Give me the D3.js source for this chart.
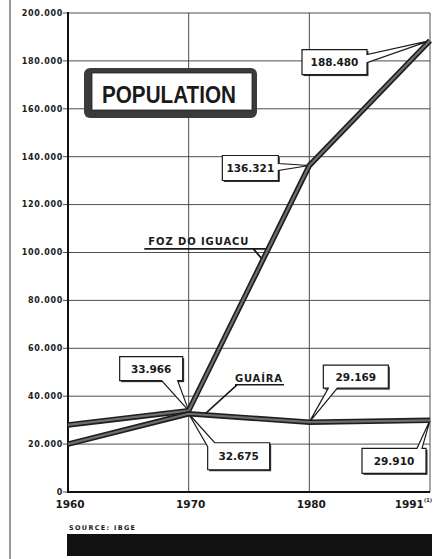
<!DOCTYPE html>
<html>
<head>
<meta charset="utf-8">
<script src="https://cdn.jsdelivr.net/npm/d3@7"></script>
<style>
  body { margin: 0; background: #fff; }
  svg text { font-family: "DejaVu Sans", sans-serif; font-weight: bold; fill: #1a1a1a; }
</style>
</head>
<body>
<div id="chart"></div>
<script>
var width = 447;
var height = 559;

// data (IBGE census)
var years = ["1960", "1970", "1980", "1991"];
var fozValues = [28000, 33966, 136321, 188480];
var guairaValues = [20000, 32675, 29169, 29910];
var yTicks = [0, 20000, 40000, 60000, 80000, 100000, 120000, 140000, 160000, 180000, 200000];

// plot frame (window.top is reserved, so no "top" var)
var plotLeft = 68, plotRight = 430, plotTop = 13, plotBottom = 492;

var x = d3.scalePoint().domain(years).range([plotLeft, plotRight]);
var y = d3.scaleLinear().domain([0, 200000]).range([plotBottom, plotTop]);

var fmt = d3.formatLocale({ decimal: ",", thousands: ".", grouping: [3], currency: ["", ""] }).format(",d");

var svg = d3.select("#chart")
  .append("svg")
  .attr("width", width)
  .attr("height", height);

// margin rule on the far left
svg.append("line")
  .attr("x1", 10).attr("x2", 10)
  .attr("y1", 0).attr("y2", height)
  .attr("stroke", "#333").attr("stroke-width", 1);

// horizontal grid + tick dashes
svg.selectAll(".hgrid")
  .data(yTicks)
  .enter()
  .append("line")
    .attr("x1", plotLeft - 5)
    .attr("x2", plotRight)
    .attr("y1", d => y(d))
    .attr("y2", d => y(d))
    .attr("stroke", "#3a3a3a")
    .attr("stroke-width", 0.9);

// vertical grid
svg.selectAll(".vgrid")
  .data(years.slice(1))
  .enter()
  .append("line")
    .attr("x1", d => x(d))
    .attr("x2", d => x(d))
    .attr("y1", plotTop)
    .attr("y2", plotBottom)
    .attr("stroke", "#3a3a3a")
    .attr("stroke-width", 0.9);

// axes
svg.append("line")
  .attr("x1", plotLeft).attr("x2", plotLeft)
  .attr("y1", plotTop - 1).attr("y2", plotBottom + 1)
  .attr("stroke", "#111").attr("stroke-width", 2);
svg.append("line")
  .attr("x1", plotLeft).attr("x2", plotRight)
  .attr("y1", plotBottom).attr("y2", plotBottom)
  .attr("stroke", "#111").attr("stroke-width", 2);

// y tick labels
svg.selectAll(".ylab")
  .data(yTicks)
  .enter()
  .append("text")
    .attr("x", plotLeft - 5)
    .attr("y", d => y(d))
    .attr("dy", "0.35em")
    .attr("text-anchor", "end")
    .attr("font-size", 8)
    .attr("letter-spacing", 0.7)
    .text(d => fmt(d));

// x tick labels
svg.selectAll(".xlab")
  .data(years)
  .enter()
  .append("text")
    .attr("x", (d, i) => i < years.length - 1 ? x(d) + 2 : x(d) + 2)
    .attr("y", 508)
    .attr("text-anchor", (d, i) => i < years.length - 1 ? "middle" : "end")
    .attr("font-size", 10.5)
    .text(d => d)
    .filter((d, i) => i == years.length - 1)
    .append("tspan")
      .attr("dy", -6)
      .attr("font-size", 5)
      .text("(1)");

// title box
svg.append("rect")
  .attr("x", 84).attr("y", 68)
  .attr("width", 173).attr("height", 50)
  .attr("rx", 6)
  .attr("fill", "#3b3b3b");
svg.append("rect")
  .attr("x", 92).attr("y", 73)
  .attr("width", 160).attr("height", 37)
  .attr("fill", "#fff")
  .attr("stroke", "#222").attr("stroke-width", 0.8);
svg.append("text")
  .attr("x", 102).attr("y", 103)
  .attr("font-size", 23)
  .attr("textLength", 134)
  .attr("lengthAdjust", "spacingAndGlyphs")
  .style("font-family", "'Liberation Sans', Arial, sans-serif")
  .style("font-weight", "bold")
  .text("POPULATION");

// value callouts (speech boxes pointing at a data point)
var series = { foz: fozValues, guaira: guairaValues };
var callouts = [
  { s: "foz", i: 3, dx: -128, dy: 9, w: 65, h: 25, gap: [["right", 5], ["right", 13]] },
  { s: "foz", i: 2, dx: -87, dy: -10, w: 56, h: 25, gap: [["right", 8], ["right", 15]] },
  { s: "foz", i: 1, dx: -69, dy: -54, w: 63, h: 24, gap: [["bottom", 58], ["bottom", 42]] },
  { s: "guaira", i: 1, dx: 19, dy: 29, w: 62, h: 27, gap: [["left", 4], ["top", 7]] },
  { s: "guaira", i: 2, dx: 14, dy: -57, w: 65, h: 23, gap: [["bottom", 14], ["bottom", 5]] },
  { s: "guaira", i: 3, dx: -68, dy: 28, w: 64, h: 25, gap: [["top", 55], ["top", 60]] }
];

function edgeT(e, w, h) {
  if (e[0] == "top") return e[1];
  if (e[0] == "right") return w + e[1];
  if (e[0] == "bottom") return w + h + (w - e[1]);
  return 2 * w + h + (h - e[1]);
}
function perimPt(t, w, h) {
  var P = 2 * w + 2 * h;
  t = ((t % P) + P) % P;
  if (t <= w) return [t, 0];
  if (t <= w + h) return [w, t - w];
  if (t <= 2 * w + h) return [w - (t - w - h), h];
  return [0, h - (t - 2 * w - h)];
}
function bubblePath(c, px, py, bx, by) {
  var w = c.w, h = c.h, P = 2 * w + 2 * h;
  var ta = edgeT(c.gap[0], w, h), tb = edgeT(c.gap[1], w, h);
  if (tb < ta) tb += P;
  var end = ta + P;
  var pts = [perimPt(tb, w, h)];
  [0, w, w + h, 2 * w + h, P, P + w, P + w + h, P + 2 * w + h, 2 * P].forEach(function(cn) {
    if (cn > tb && cn < end) pts.push(perimPt(cn, w, h));
  });
  pts.push(perimPt(end, w, h));
  var d = pts.map((p, k) => (k ? "L" : "M") + (bx + p[0]) + "," + (by + p[1])).join("");
  return d + "L" + px + "," + py + "Z";
}

var co = svg.append("g").attr("class", "callouts");
callouts.forEach(function(c) {
  var v = series[c.s][c.i];
  var px = x(years[c.i]), py = y(v);
  var bx = px + c.dx, by = py + c.dy;
  co.append("rect")
    .attr("x", bx + 1.5).attr("y", by + 1.5)
    .attr("width", c.w).attr("height", c.h)
    .attr("fill", "#333");
  co.append("path")
    .attr("d", bubblePath(c, px, py, bx, by))
    .attr("fill", "#fff")
    .attr("stroke", "#1a1a1a")
    .attr("stroke-width", 1.2)
    .attr("stroke-linejoin", "miter");
  co.append("text")
    .attr("x", bx + c.w / 2)
    .attr("y", by + c.h / 2 + 4)
    .attr("text-anchor", "middle")
    .attr("font-size", 10.5)
    .text(fmt(v));
});

// series name labels
function along(vals, i, f) {
  return [x(years[i]) + f * (x(years[i + 1]) - x(years[i])),
          y(vals[i]) + f * (y(vals[i + 1]) - y(vals[i]))];
}
var fa = along(fozValues, 1, 0.615), fb = along(fozValues, 1, 0.66);
svg.append("path")
  .attr("d", "M" + (fb[0] - 124) + "," + fb[1] + "L" + fb[0] + "," + fb[1] +
             "M" + (fb[0] - 15) + "," + fb[1] + "L" + fa[0] + "," + fa[1])
  .attr("fill", "none").attr("stroke", "#1a1a1a").attr("stroke-width", 1.8);
svg.append("text")
  .attr("x", fb[0] - 120).attr("y", fb[1] - 4)
  .attr("font-size", 10)
  .attr("letter-spacing", 0.9)
  .text("FOZ DO IGUACU");

var g = along(guairaValues, 1, 0.127);
svg.append("path")
  .attr("d", "M" + (g[0] + 31) + "," + (g[1] - 30) + "L" + (g[0] + 80) + "," + (g[1] - 30) +
             "M" + (g[0] + 33) + "," + (g[1] - 30) + "L" + g[0] + "," + g[1])
  .attr("fill", "none").attr("stroke", "#1a1a1a").attr("stroke-width", 1.6);
svg.append("text")
  .attr("x", g[0] + 31).attr("y", g[1] - 33)
  .attr("font-size", 10)
  .attr("letter-spacing", 0.8)
  .text("GUAÍRA");

// the two series: dark edges with a grey core
var line = d3.line()
  .x((d, i) => x(years[i]))
  .y(d => y(d));

[fozValues, guairaValues].forEach(function(vals) {
  svg.append("path")
    .attr("d", line(vals))
    .attr("fill", "none")
    .attr("stroke", "#1e1e1e")
    .attr("stroke-width", 5.5)
    .attr("stroke-linejoin", "round");
  svg.append("path")
    .attr("d", line(vals))
    .attr("fill", "none")
    .attr("stroke", "#6f6f6f")
    .attr("stroke-width", 2.2)
    .attr("stroke-linejoin", "round");
});

// source + black bar
svg.append("text")
  .attr("x", 69).attr("y", 530)
  .attr("font-size", 6.5)
  .attr("letter-spacing", 1.3)
  .text("SOURCE: IBGE");
svg.append("rect")
  .attr("x", 67).attr("y", 534)
  .attr("width", 365).attr("height", 22)
  .attr("fill", "#111");
</script>
</body>
</html>
